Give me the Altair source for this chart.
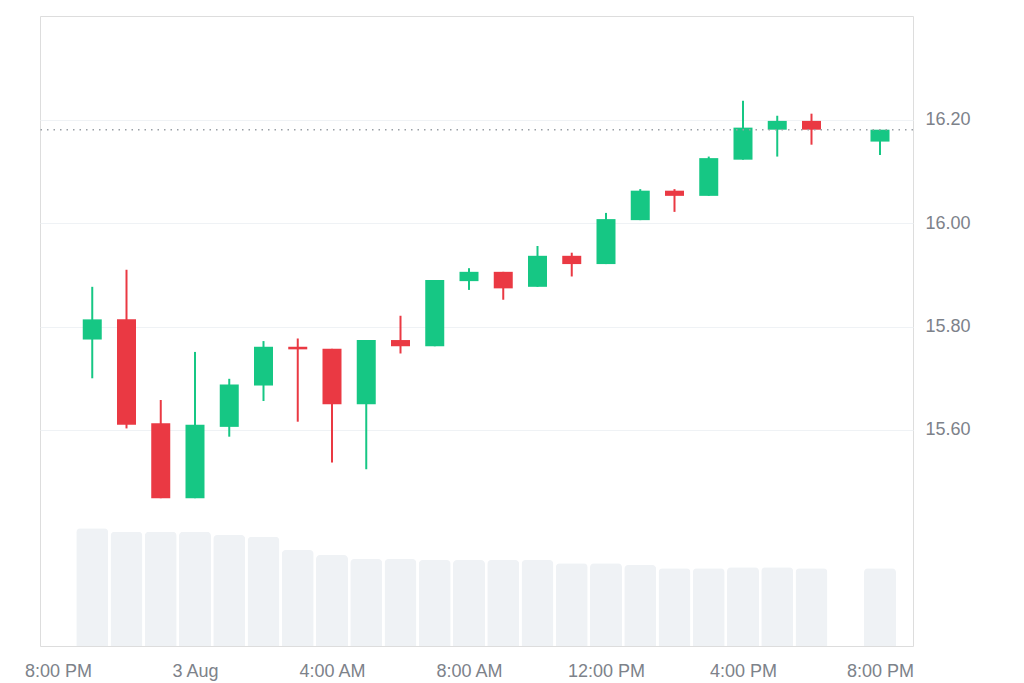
import altair as alt
import pandas as pd

times = [
    "2024-08-02T21:00:00", "2024-08-02T22:00:00", "2024-08-02T23:00:00",
    "2024-08-03T00:00:00", "2024-08-03T01:00:00", "2024-08-03T02:00:00",
    "2024-08-03T03:00:00", "2024-08-03T04:00:00", "2024-08-03T05:00:00",
    "2024-08-03T06:00:00", "2024-08-03T07:00:00", "2024-08-03T08:00:00",
    "2024-08-03T09:00:00", "2024-08-03T10:00:00", "2024-08-03T11:00:00",
    "2024-08-03T12:00:00", "2024-08-03T13:00:00", "2024-08-03T14:00:00",
    "2024-08-03T15:00:00", "2024-08-03T16:00:00", "2024-08-03T17:00:00",
    "2024-08-03T18:00:00", "2024-08-03T20:00:00",
]
opens = [15.775, 15.814, 15.613, 15.468, 15.606, 15.686, 15.761, 15.757, 15.650,
         15.774, 15.762, 15.888, 15.906, 15.877, 15.937, 15.921, 16.006, 16.063,
         16.053, 16.123, 16.181, 16.198, 16.158]
closes = [15.814, 15.610, 15.468, 15.610, 15.688, 15.761, 15.756, 15.650, 15.774,
          15.762, 15.890, 15.906, 15.874, 15.937, 15.921, 16.008, 16.063, 16.053,
          16.126, 16.185, 16.198, 16.181, 16.181]
highs = [15.877, 15.910, 15.658, 15.751, 15.699, 15.772, 15.777, 15.757, 15.774,
         15.821, 15.890, 15.913, 15.906, 15.956, 15.943, 16.020, 16.066, 16.066,
         16.129, 16.237, 16.208, 16.212, 16.181]
lows = [15.700, 15.603, 15.468, 15.468, 15.587, 15.656, 15.616, 15.537, 15.524,
        15.748, 15.762, 15.871, 15.852, 15.877, 15.897, 15.921, 16.006, 16.022,
        16.053, 16.123, 16.129, 16.152, 16.132]
volumes = [1177, 1143, 1143, 1143, 1110, 1093, 960, 910, 870, 870, 860, 860, 860,
           860, 827, 827, 810, 777, 777, 787, 787, 777, 777]
last_price = 16.181
y_ticks = [15.6, 15.8, 16.0, 16.2]

df = pd.DataFrame({
    "t": times, "open": opens, "close": closes, "high": highs, "low": lows,
    "volume": volumes,
})
df["dir"] = ["up" if c >= o else "down" for o, c in zip(opens, closes)]

GREEN = "#16c784"
RED = "#ea3943"
LABEL = "#7d828a"

x_domain = [alt.DateTime(year=2024, month=8, date=2, hours=19, minutes=28, seconds=28),
            alt.DateTime(year=2024, month=8, date=3, hours=20, minutes=57, seconds=49)]
x_values = [alt.DateTime(year=2024, month=8, date=2, hours=20)] + [
    alt.DateTime(year=2024, month=8, date=3, hours=h) for h in [0, 4, 8, 12, 16, 20]
]

x_enc = alt.X(
    "t:T",
    scale=alt.Scale(domain=x_domain, padding=0),
    axis=alt.Axis(
        values=x_values,
        labelExpr="hours(datum.value) == 0 ? timeFormat(datum.value, '%-d %b') : timeFormat(datum.value, '%-I:%M %p')",
        grid=False, ticks=False, domain=False, labelFontSize=18, labelColor=LABEL,
        labelFont="Liberation Sans", labelPadding=16, title=None, labelFlush=False,
    ),
)

y_scale = alt.Scale(domain=[15.182, 16.401], zero=False, nice=False)
y_axis = alt.Axis(
    orient="right", values=y_ticks, format=".2f", grid=True, gridColor="#eff2f5",
    gridWidth=1, ticks=False, domain=False, labelFontSize=18, labelColor=LABEL,
    labelFont="Liberation Sans", labelPadding=12, title=None,
)

base = alt.Chart(df)

vol = base.mark_bar(color="#eff2f5", width=32, cornerRadiusTopLeft=4,
                    cornerRadiusTopRight=4).encode(
    x=x_enc,
    y=alt.Y("volume:Q", scale=alt.Scale(domain=[0, 6300]), axis=None),
)

color_enc = alt.Color("dir:N", scale=alt.Scale(domain=["up", "down"], range=[GREEN, RED]),
                      legend=None)

wick = base.mark_rule(strokeWidth=2).encode(
    x=x_enc,
    y=alt.Y("low:Q", scale=y_scale, axis=y_axis),
    y2="high:Q",
    color=color_enc,
)

body = base.mark_bar(width=19).encode(
    x=x_enc,
    y=alt.Y("open:Q", scale=y_scale, axis=y_axis),
    y2="close:Q",
    color=color_enc,
)

price_line = alt.Chart(pd.DataFrame({"p": [last_price]})).mark_rule(
    color="#9aa0a6", strokeDash=[1.5, 5], strokeWidth=1.5
).encode(
    y=alt.Y("p:Q", scale=y_scale, axis=y_axis),
)

price = alt.layer(wick, body, price_line)

chart = alt.layer(vol, price).resolve_scale(y="independent").properties(
    width=873, height=630,
    autosize=alt.AutoSizeParams(type="none"),
    padding={"left": 32, "top": 8, "right": 100, "bottom": 36},
).configure_view(stroke="#e8eaed", strokeWidth=1).configure(background="white")

chart.save("out.html", embed_options={"renderer": "svg", "actions": False})
